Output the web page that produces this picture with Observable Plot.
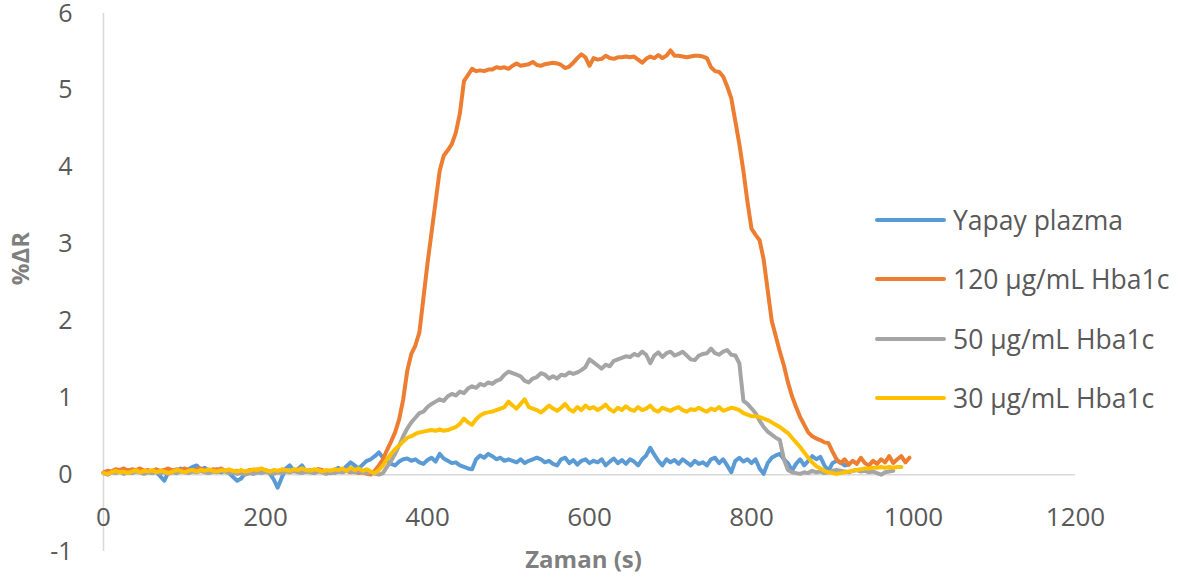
<!DOCTYPE html>
<html><head><meta charset="utf-8">
<script src="https://cdn.jsdelivr.net/npm/d3@7"></script>
<script src="https://cdn.jsdelivr.net/npm/@observablehq/plot@0.6"></script>
<style>
body{margin:0;background:#fff;}
#wrap{position:relative;width:1194px;height:581px;font-family:"Open Sans",sans-serif;}
.item{position:absolute;left:875px;display:flex;align-items:center;white-space:nowrap;transform:translateY(-50%);}
.sw{width:71px;height:4px;border-radius:2px;margin-right:7px;}
.lab{font-size:26.5px;color:#595959;line-height:32px;}
</style></head><body><div id="wrap"></div>
<script>
const seriesNames = ["Yapay plazma", "120 µg/mL Hba1c", "50 µg/mL Hba1c", "30 µg/mL Hba1c"];
const seriesColors = ["#5B9BD5", "#ED7D31", "#A5A5A5", "#FFC000"];
const xTicks = [0, 200, 400, 600, 800, 1000, 1200];
const yTicks = [-1, 0, 1, 2, 3, 4, 5, 6];
const xTitle = "Zaman (s)";
const yTitle = "%ΔR";

// sampling times (s)
const times = [
0,5,10,15,20,25,30,35,40,45,
50,55,60,65,70,75,80,85,90,95,
100,105,110,115,120,125,130,135,140,145,
150,155,160,165,170,175,180,185,190,195,
200,205,210,215,220,225,230,235,240,245,
250,255,260,265,270,275,280,285,290,295,
300,305,310,315,320,325,330,335,340,345,
350,355,360,365,370,375,380,385,390,395,
400,405,410,415,420,425,430,435,440,445,
450,455,460,465,470,475,480,485,490,495,
500,505,510,515,520,525,530,535,540,545,
550,555,560,565,570,575,580,585,590,595,
600,605,610,615,620,625,630,635,640,645,
650,655,660,665,670,675,680,685,690,695,
700,705,710,715,720,725,730,735,740,745,
750,755,760,765,770,775,780,785,790,795,
800,805,810,815,820,825,830,835,840,845,
850,855,860,865,870,875,880,885,890,895,
900,905,910,915,920,925,930,935,940,945,
950,955,960,965,970,975,980,985,990,995,
1000];

const yapay = [
0.02,0.04,0.03,0.06,0.05,0.02,0.06,0.04,0.05,0.07,
0.03,0.05,0.02,0.04,-0.02,-0.08,0.03,0.06,0.02,0.08,
0.05,0.07,0.10,0.12,0.06,0.09,0.05,0.04,0.07,0.03,
0.05,0.02,-0.03,-0.08,-0.05,0.02,0.04,0.01,0.05,0.03,
0.06,0.02,-0.06,-0.17,-0.04,0.08,0.12,0.05,0.07,0.12,
0.04,0.06,0.02,0.07,0.03,0.05,0.02,0.06,0.09,0.05,
0.11,0.16,0.12,0.08,0.13,0.18,0.20,0.24,0.29,0.22,
0.18,0.14,0.12,0.17,0.20,0.21,0.18,0.20,0.16,0.14,
0.19,0.22,0.17,0.27,0.21,0.18,0.15,0.16,0.12,0.10,
0.08,0.07,0.20,0.25,0.22,0.27,0.24,0.20,0.22,0.18,
0.20,0.18,0.16,0.20,0.15,0.18,0.20,0.22,0.20,0.16,
0.18,0.14,0.12,0.20,0.22,0.15,0.19,0.13,0.18,0.20,
0.15,0.18,0.16,0.20,0.12,0.17,0.21,0.15,0.19,0.14,
0.20,0.17,0.12,0.20,0.25,0.35,0.26,0.18,0.12,0.20,
0.16,0.19,0.14,0.20,0.16,0.12,0.18,0.14,0.16,0.12,
0.20,0.22,0.15,0.20,0.12,0.03,0.18,0.22,0.17,0.20,
0.15,0.20,0.08,0.01,0.15,0.22,0.25,0.27,0.20,0.15,
0.05,0.14,0.20,0.12,0.18,0.24,0.20,0.23,0.12,0.05,
0.15,0.18,0.16,0.12,0.13];

const hb120 = [
0.03,0.05,0.04,0.07,0.06,0.08,0.05,0.07,0.06,0.08,
0.05,0.06,0.04,0.07,0.05,0.06,0.08,0.05,0.07,0.06,
0.08,0.06,0.05,0.07,0.08,0.06,0.05,0.07,0.06,0.08,
0.05,0.06,0.04,0.05,0.03,0.04,0.06,0.05,0.07,0.05,
0.06,0.04,0.05,0.03,0.05,0.06,0.04,0.05,0.07,0.05,
0.06,0.04,0.05,0.07,0.06,0.04,0.05,0.03,0.04,0.06,
0.05,0.03,0.04,0.02,0.03,0.01,0.00,0.05,0.12,0.20,
0.32,0.43,0.55,0.72,0.98,1.35,1.57,1.68,1.85,2.30,
2.75,3.15,3.55,3.95,4.15,4.22,4.30,4.45,4.70,5.12,
5.20,5.28,5.25,5.26,5.25,5.27,5.27,5.30,5.29,5.30,
5.28,5.32,5.35,5.32,5.33,5.34,5.37,5.33,5.32,5.34,
5.35,5.36,5.35,5.33,5.29,5.31,5.36,5.42,5.47,5.43,
5.32,5.42,5.40,5.41,5.45,5.42,5.41,5.43,5.43,5.44,
5.43,5.44,5.40,5.36,5.41,5.44,5.42,5.46,5.42,5.45,
5.52,5.45,5.45,5.44,5.43,5.44,5.45,5.45,5.44,5.42,
5.30,5.25,5.24,5.18,5.05,4.90,4.60,4.30,3.95,3.55,
3.20,3.12,3.05,2.80,2.40,2.00,1.80,1.60,1.42,1.20,
1.02,0.88,0.75,0.65,0.55,0.50,0.47,0.45,0.42,0.41,
0.30,0.20,0.15,0.20,0.13,0.18,0.14,0.22,0.15,0.12,
0.18,0.14,0.20,0.16,0.24,0.15,0.20,0.24,0.16,0.22];

const hb50 = [
0.02,0.00,0.03,0.02,0.04,0.01,0.03,0.02,0.04,0.03,
0.01,0.03,0.02,0.04,0.02,0.03,0.01,0.03,0.02,0.04,
0.03,0.02,0.04,0.03,0.05,0.03,0.02,0.04,0.03,0.05,
0.04,0.02,0.03,0.01,0.02,0.00,0.02,0.01,0.03,0.02,
0.04,0.02,0.01,0.03,0.02,0.04,0.03,0.05,0.03,0.02,
0.04,0.03,0.02,0.04,0.03,0.01,0.03,0.02,0.04,0.03,
0.05,0.04,0.03,0.05,0.03,0.02,0.03,0.01,0.00,0.02,
0.10,0.18,0.27,0.38,0.50,0.60,0.68,0.74,0.80,0.82,
0.88,0.92,0.95,0.98,0.96,1.02,1.05,1.03,1.08,1.06,
1.12,1.15,1.13,1.18,1.16,1.20,1.18,1.22,1.24,1.30,
1.34,1.32,1.30,1.28,1.22,1.20,1.25,1.27,1.32,1.30,
1.25,1.28,1.25,1.30,1.29,1.33,1.31,1.33,1.36,1.40,
1.50,1.46,1.42,1.38,1.43,1.41,1.48,1.50,1.52,1.54,
1.53,1.57,1.55,1.60,1.56,1.45,1.55,1.59,1.53,1.58,
1.60,1.55,1.57,1.60,1.55,1.50,1.49,1.55,1.57,1.58,
1.64,1.58,1.56,1.60,1.62,1.56,1.55,1.45,0.96,0.92,
0.86,0.80,0.70,0.62,0.56,0.52,0.48,0.45,0.20,0.06,
0.03,0.02,0.01,0.03,0.02,0.05,0.03,0.04,0.02,0.03,
0.05,0.06,0.05,0.04,0.03,0.05,0.06,0.04,0.05,0.03,
0.04,0.02,0.00,0.03,0.04,0.05];

const hb30 = [
0.02,0.01,0.03,0.05,0.03,0.04,0.02,0.04,0.06,0.03,
0.05,0.04,0.06,0.03,0.05,0.04,0.02,0.04,0.06,0.05,
0.03,0.05,0.06,0.04,0.06,0.05,0.07,0.05,0.04,0.06,
0.05,0.07,0.05,0.04,0.06,0.04,0.05,0.07,0.06,0.08,
0.06,0.04,0.06,0.05,0.07,0.06,0.05,0.07,0.06,0.08,
0.06,0.05,0.07,0.06,0.04,0.06,0.05,0.07,0.06,0.08,
0.05,0.09,0.06,0.08,0.05,0.07,0.04,0.02,0.06,0.12,
0.20,0.27,0.33,0.38,0.43,0.48,0.50,0.53,0.55,0.56,
0.57,0.58,0.57,0.59,0.57,0.58,0.60,0.62,0.66,0.73,
0.68,0.65,0.72,0.77,0.80,0.81,0.82,0.84,0.86,0.88,
0.95,0.90,0.86,0.92,0.98,0.88,0.86,0.84,0.81,0.85,
0.90,0.86,0.83,0.87,0.92,0.85,0.82,0.88,0.84,0.90,
0.86,0.88,0.84,0.87,0.91,0.85,0.82,0.87,0.84,0.89,
0.85,0.83,0.88,0.84,0.86,0.90,0.84,0.82,0.87,0.85,
0.83,0.86,0.88,0.84,0.82,0.85,0.84,0.87,0.84,0.82,
0.86,0.84,0.88,0.83,0.85,0.87,0.86,0.84,0.80,0.78,
0.76,0.76,0.75,0.73,0.71,0.68,0.65,0.62,0.58,0.54,
0.48,0.42,0.36,0.29,0.22,0.16,0.11,0.08,0.05,0.03,
0.02,0.01,0.02,0.03,0.04,0.05,0.06,0.07,0.08,0.08,
0.09,0.09,0.10,0.09,0.10,0.09,0.10,0.10];

const seriesValues = [yapay, hb120, hb50, hb30];
const data = [];
seriesValues.forEach((vals, k) => {
  vals.forEach((v, i) => { if (v != null && times[i] != null) data.push({t: times[i], v, s: seriesNames[k]}); });
});

const plot = Plot.plot({
  width: 1194, height: 581,
  marginLeft: 103, marginRight: 119, marginTop: 13, marginBottom: 30,
  x: {domain: [0, 1200]},
  y: {domain: [-1, 6]},
  color: {domain: seriesNames, range: seriesColors},
  style: {fontFamily: "'Open Sans', sans-serif", background: "#fff", color: "#595959", overflow: "visible"},
  marks: [
    Plot.ruleX([0], {stroke: "#d9d9d9", strokeWidth: 1.5}),
    Plot.ruleY([0], {stroke: "#d9d9d9", strokeWidth: 1.5}),
    Plot.axisY({ticks: yTicks, tickSize: 0, tickPadding: 31, fontSize: 25, label: null, tickFormat: d => String(d).replace("−","-")}),
    Plot.axisX({ticks: xTicks, tickSize: 0, tickPadding: 0, fontSize: 26, label: null, dy: -34, lineAnchor: "middle", tickFormat: d => String(d)}),
    Plot.line(data, {x: "t", y: "v", z: "s", stroke: "s", strokeWidth: 4, strokeLinejoin: "round", strokeLinecap: "round"}),
    Plot.text([xTitle], {text: d => d, frameAnchor: "bottom", dx: -6, dy: 9, lineAnchor: "middle", fontSize: 24, fontWeight: "bold", fill: "#7f7f7f"}),
    Plot.text([yTitle], {text: d => d, frameAnchor: "left", textAnchor: "middle", dx: -82, dy: -24, rotate: -90, lineAnchor: "middle", fontSize: 24, fontWeight: "bold", fill: "#7f7f7f"})
  ]
});

const wrap = document.getElementById("wrap");
wrap.appendChild(plot);
const legendCenters = [220, 279, 339, 398];
seriesNames.forEach((name, i) => {
  const item = document.createElement("div");
  item.className = "item";
  item.style.top = legendCenters[i] + "px";
  const sw = document.createElement("div");
  sw.className = "sw";
  sw.style.background = seriesColors[i];
  const lab = document.createElement("span");
  lab.className = "lab";
  lab.textContent = name;
  item.appendChild(sw); item.appendChild(lab);
  wrap.appendChild(item);
});
</script></body></html>
